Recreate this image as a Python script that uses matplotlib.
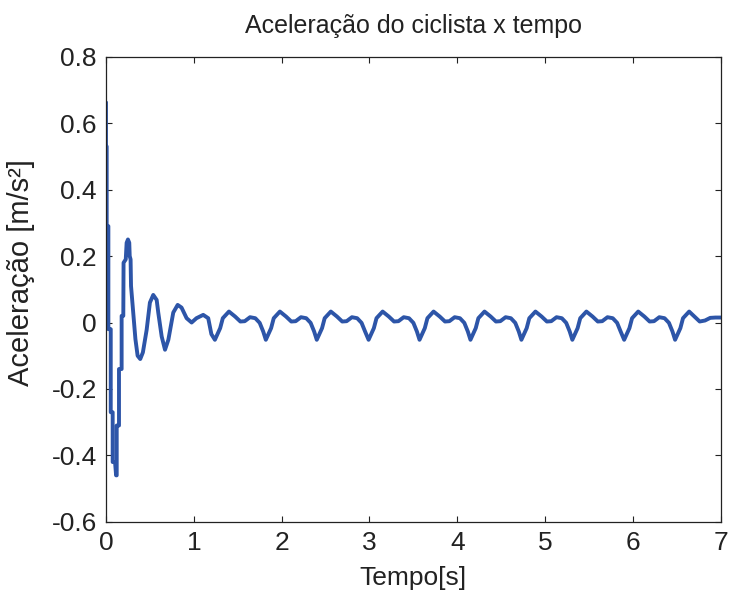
import numpy as np
import matplotlib
matplotlib.use('Agg')
import matplotlib.pyplot as plt

plt.rcParams['font.family'] = ['Liberation Sans', 'DejaVu Sans']

################### data ##################
# transient part (stepped start)
t_trans = [0.0, 0.0, 0.008, 0.008, 0.027, 0.027, 0.054, 0.054, 0.076, 0.076,
           0.103, 0.115, 0.122, 0.122, 0.148, 0.148, 0.178, 0.178, 0.197, 0.20,
           0.225, 0.235, 0.25, 0.265, 0.27, 0.28, 0.285, 0.31, 0.335, 0.36,
           0.39, 0.42, 0.463, 0.50, 0.538, 0.577, 0.595, 0.634, 0.672, 0.71,
           0.766, 0.816, 0.86, 0.918, 0.975, 1.03, 1.107, 1.164, 1.20]
a_trans = [0.66, 0.53, 0.53, 0.29, 0.29, -0.02, -0.02, -0.27, -0.27, -0.42,
           -0.42, -0.46, -0.46, -0.31, -0.31, -0.14, -0.14, 0.02, 0.02, 0.18,
           0.19, 0.24, 0.25, 0.24, 0.20, 0.19, 0.11, 0.03, -0.05, -0.10,
           -0.11, -0.09, -0.022, 0.06, 0.083, 0.068, 0.03, -0.042, -0.082, -0.052,
           0.03, 0.053, 0.045, 0.013, 0.0, 0.013, 0.023, 0.013, -0.035]

# steady oscillation, 1.2 s .. 7 s
t_osc = [1.24, 1.30, 1.33, 1.40, 1.47, 1.53, 1.58, 1.64, 1.70, 1.75, 1.79,
         1.82, 1.88, 1.91, 1.98, 2.05, 2.11, 2.16, 2.22, 2.28, 2.33, 2.37,
         2.40, 2.46, 2.49, 2.56, 2.63, 2.69, 2.74, 2.80, 2.86, 2.91, 2.95,
         2.99, 3.05, 3.08, 3.15, 3.22, 3.28, 3.33, 3.39, 3.45, 3.50, 3.54,
         3.57, 3.63, 3.66, 3.73, 3.80, 3.86, 3.91, 3.97, 4.03, 4.08, 4.12,
         4.15, 4.21, 4.24, 4.31, 4.38, 4.44, 4.49, 4.55, 4.61, 4.66, 4.70,
         4.73, 4.79, 4.82, 4.89, 4.96, 5.02, 5.07, 5.13, 5.19, 5.24, 5.28,
         5.31, 5.37, 5.40, 5.47, 5.54, 5.60, 5.65, 5.71, 5.77, 5.82, 5.86,
         5.90, 5.96, 5.99, 6.06, 6.13, 6.19, 6.24, 6.30, 6.36, 6.41, 6.45,
         6.48, 6.54, 6.57, 6.64, 6.70, 6.76, 6.82, 6.88, 6.94, 6.99]
a_osc = [-0.052, -0.017, 0.013, 0.033, 0.018, 0.003, 0.004, 0.016, 0.013, -0.001, -0.027,
         -0.052, -0.017, 0.013, 0.033, 0.018, 0.003, 0.004, 0.016, 0.013, -0.001, -0.027,
         -0.052, -0.017, 0.013, 0.033, 0.018, 0.003, 0.004, 0.016, 0.013, -0.001, -0.027,
         -0.052, -0.017, 0.013, 0.033, 0.018, 0.003, 0.004, 0.016, 0.013, -0.001, -0.027,
         -0.052, -0.017, 0.013, 0.033, 0.018, 0.003, 0.004, 0.016, 0.013, -0.001, -0.027,
         -0.052, -0.017, 0.013, 0.033, 0.018, 0.003, 0.004, 0.016, 0.013, -0.001, -0.027,
         -0.052, -0.017, 0.013, 0.033, 0.018, 0.003, 0.004, 0.016, 0.013, -0.001, -0.027,
         -0.052, -0.017, 0.013, 0.033, 0.018, 0.003, 0.004, 0.016, 0.013, -0.001, -0.027,
         -0.052, -0.017, 0.013, 0.033, 0.018, 0.003, 0.004, 0.016, 0.013, -0.001, -0.027,
         -0.052, -0.017, 0.013, 0.033, 0.018, 0.003, 0.006, 0.014, 0.015, 0.015]

x_ticks = [0, 1, 2, 3, 4, 5, 6, 7]
y_ticks = [-0.6, -0.4, -0.2, 0, 0.2, 0.4, 0.6, 0.8]
y_ticklabels = ['-0.6', '-0.4', '-0.2', '0', '0.2', '0.4', '0.6', '0.8']

t = np.array(t_trans + t_osc)
a = np.array(a_trans + a_osc)

################### plot ##################
fig = plt.figure(figsize=(7.31, 5.91), dpi=100)
ax = fig.add_axes([0.145, 0.117, 0.841, 0.787])
ax.plot(t, a, color='#2D55A8', linewidth=2.8, solid_joinstyle='round')

ax.set_xlim(0, 7)
ax.set_ylim(-0.6, 0.8)
ax.set_xticks(x_ticks)
ax.set_yticks(y_ticks)
ax.set_yticklabels(y_ticklabels)
ax.tick_params(direction='in', top=True, right=True, length=4.3, width=0.8,
               labelsize=19, colors='#222222', pad=6.5)
for sp in ax.spines.values():
    sp.set_linewidth(0.9)
    sp.set_color('#222222')

ax.set_title('Aceleração do ciclista x tempo', fontsize=18, color='#222222', pad=17)
ax.set_xlabel('Tempo[s]', fontsize=19, color='#222222', labelpad=8)
ax.set_ylabel('Aceleração [m/s²]', fontsize=21, color='#222222')
ax.yaxis.set_label_coords(-0.115, 0.535)

fig.savefig('out.png', dpi=100)
